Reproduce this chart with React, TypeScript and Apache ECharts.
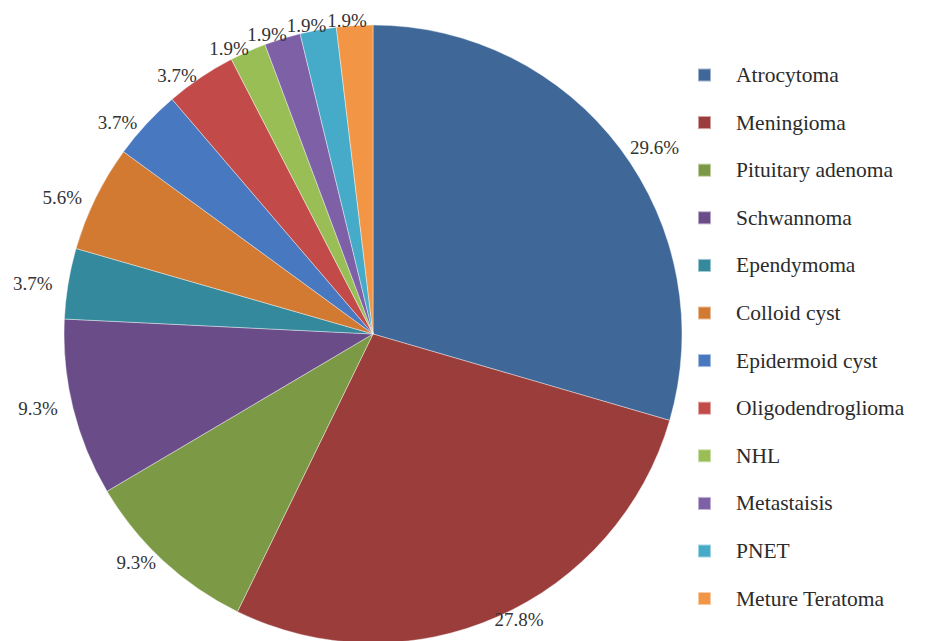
import React, { useEffect, useRef } from "react";
import * as echarts from "echarts";

const categories = [
  "Atrocytoma",
  "Meningioma",
  "Pituitary adenoma",
  "Schwannoma",
  "Ependymoma",
  "Colloid cyst",
  "Epidermoid cyst",
  "Oligodendroglioma",
  "NHL",
  "Metastaisis",
  "PNET",
  "Meture Teratoma",
];
const percents = [29.6, 27.8, 9.3, 9.3, 3.7, 5.6, 3.7, 3.7, 1.9, 1.9, 1.9, 1.9];
const colors = [
  "#3F6899",
  "#9A3D3B",
  "#7C9A45",
  "#694C88",
  "#34899D",
  "#D27A32",
  "#4879C0",
  "#C24B49",
  "#99BE56",
  "#7D60A6",
  "#46ABC8",
  "#F29645",
];

const FONT = "Liberation Serif";
const CENTER = [373, 334];
const RADIUS = 309;

export default function App() {
  const ref = useRef<HTMLDivElement>(null);
  useEffect(() => {
    if (!ref.current) return;
    const chart = echarts.init(ref.current, undefined, { renderer: "svg" });
    chart.setOption({
      animation: false,
      backgroundColor: "#ffffff",
      color: colors,
      textStyle: { fontFamily: FONT },
      legend: {
        orient: "vertical",
        left: 692,
        top: 59,
        icon: "rect",
        itemWidth: 13,
        itemHeight: 13,
        itemGap: 25.6,
        textStyle: {
          fontFamily: FONT,
          fontSize: 21.5,
          color: "#2b2b2b",
          lineHeight: 20,
          padding: [0, 0, 0, 20],
        },
        data: categories,
      },
      series: [
        {
          type: "pie",
          center: CENTER,
          radius: RADIUS,
          startAngle: 90,
          clockwise: true,
          avoidLabelOverlap: false,
          itemStyle: { borderColor: "rgba(255,255,255,0.5)", borderWidth: 0.8 },
          label: {
            show: true,
            position: "outside",
            formatter: (p: any) => percents[p.dataIndex].toFixed(1) + "%",
            fontFamily: FONT,
            fontSize: 19,
            color: "#333333",
          },
          labelLine: { show: false, length: 8, length2: 0 },
          labelLayout: (p: any) => {
            const r = p.labelRect;
            if (!r) return {};
            const ax = p.align === "right" ? r.x + r.width : p.align === "left" ? r.x : r.x + r.width / 2;
            const ay = r.y + r.height / 2;
            let dx = ax - CENTER[0];
            let dy = ay - CENTER[1];
            const len = Math.sqrt(dx * dx + dy * dy) || 1;
            dx /= len;
            dy /= len;
            const qx = CENTER[0] + RADIUS * dx;
            const qy = CENTER[1] + RADIUS * dy;
            const w = r.width / 2 + 16;
            const h = r.height / 2 - 4;
            return {
              x: qx + dx * w,
              y: qy + dy * h,
              align: "center",
              verticalAlign: "middle",
            };
          },
          data: categories.map((name, i) => ({ name, value: percents[i] })),
        },
      ],
    });
    return () => chart.dispose();
  }, []);
  return (
    <div
      ref={ref}
      style={{ position: "fixed", left: 0, top: 0, width: 944, height: 641 }}
    />
  );
}
